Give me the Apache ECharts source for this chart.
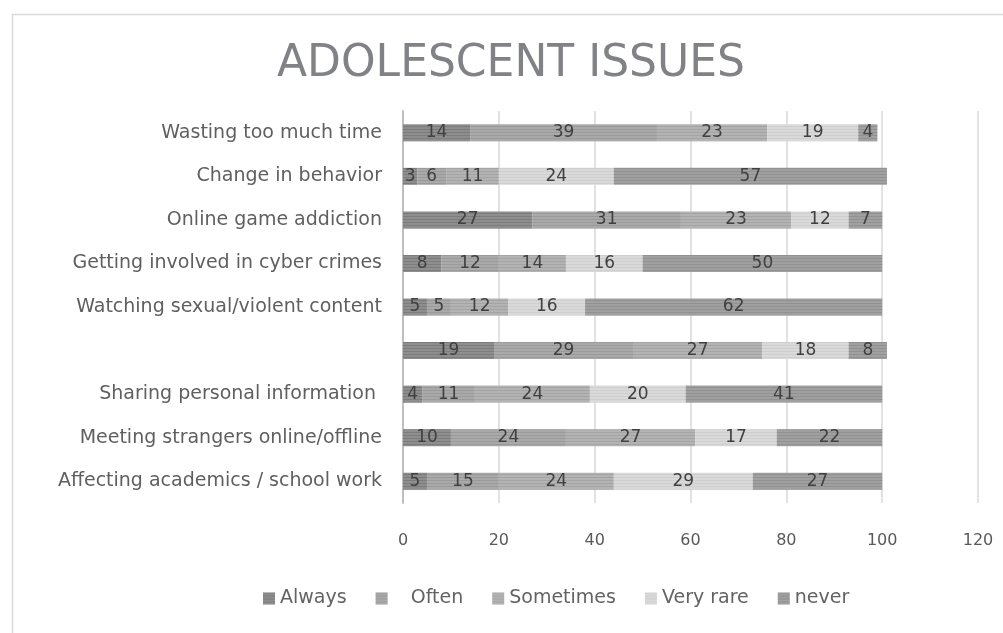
<!DOCTYPE html>
<html>
<head>
<meta charset="utf-8">
<script src="https://cdn.jsdelivr.net/npm/echarts@6/dist/echarts.min.js"></script>
<style>html,body{margin:0;padding:0;background:#fff}#c{width:1003px;height:633px}</style>
</head>
<body>
<div id="c"></div>
<script>
const categories = ['Affecting academics / school work', 'Meeting strangers online/offline', 'Sharing personal information ', '', 'Watching sexual/violent content', 'Getting involved in cyber crimes', 'Online game addiction', 'Change in behavior', 'Wasting too much time'];
const seriesNames = ['Always', '   Often', 'Sometimes', 'Very rare', 'never'];
const always    = [5, 10, 4, 19, 5, 8, 27, 3, 14];
const often     = [15, 24, 11, 29, 5, 12, 31, 6, 39];
const sometimes = [24, 27, 24, 27, 12, 14, 23, 11, 23];
const veryRare  = [29, 17, 20, 18, 16, 16, 12, 24, 19];
const never     = [27, 22, 41, 8, 62, 50, 7, 57, 4];
const xTicks = [0, 20, 40, 60, 80, 100, 120];

const values = [always, often, sometimes, veryRare, never];
const colors = ['#8e8e8e', '#a9a9a9', '#b3b3b3', '#d9d9d9', '#a0a0a0'];
const stripe = ['rgba(110,110,110,0.55)', 'rgba(140,140,140,0.5)', 'rgba(150,150,150,0.5)', 'rgba(200,200,200,0.6)', 'rgba(130,130,130,0.5)'];
const font = '"DejaVu Sans", "Open Sans", sans-serif';

const chart = echarts.init(document.getElementById('c'), null, {renderer: 'canvas'});
chart.setOption({
  animation: false,
  aria: {enabled: true, decal: {show: true}},
  graphic: [{
    type: 'rect', shape: {x: 12.5, y: 14.5, width: 1000, height: 630},
    style: {fill: 'none', stroke: '#d9d9d9', lineWidth: 1.5}, silent: true
  }],
  title: {
    text: 'ADOLESCENT ISSUES', left: 272, top: 38,
    textStyle: {fontFamily: font, fontSize: 44, fontWeight: 'normal', color: '#808285'}
  },
  legend: {
    top: 584, left: 258, itemWidth: 12, itemHeight: 12, itemGap: 29,
    icon: 'rect',
    textStyle: {fontFamily: font, fontSize: 19, color: '#636363'}
  },
  grid: {left: 403, right: 25, top: 111, bottom: 130, containLabel: false},
  xAxis: {
    type: 'value', min: xTicks[0], max: xTicks[xTicks.length - 1], interval: 20,
    axisLine: {show: false}, axisTick: {show: false},
    splitLine: {lineStyle: {color: '#d9d9d9', width: 1.5}},
    axisLabel: {fontFamily: font, fontSize: 16, color: '#595959', margin: 30}
  },
  yAxis: {
    type: 'category', data: categories,
    axisLine: {lineStyle: {color: '#bfbfbf', width: 2}},
    axisTick: {show: false},
    axisLabel: {fontFamily: font, fontSize: 19, color: '#5f5f5f', margin: 21}
  },
  series: values.map((v, i) => ({
    name: seriesNames[i], type: 'bar', stack: 'total', barWidth: 17, data: v,
    itemStyle: {
      color: colors[i],
      decal: {symbol: 'rect', symbolSize: 1, dashArrayX: [1, 0], dashArrayY: [1, 2], color: stripe[i], rotation: 0}
    },
    label: {show: true, position: 'inside', fontFamily: font, fontSize: 17, color: '#404040'}
  }))
});
</script>
</body>
</html>
